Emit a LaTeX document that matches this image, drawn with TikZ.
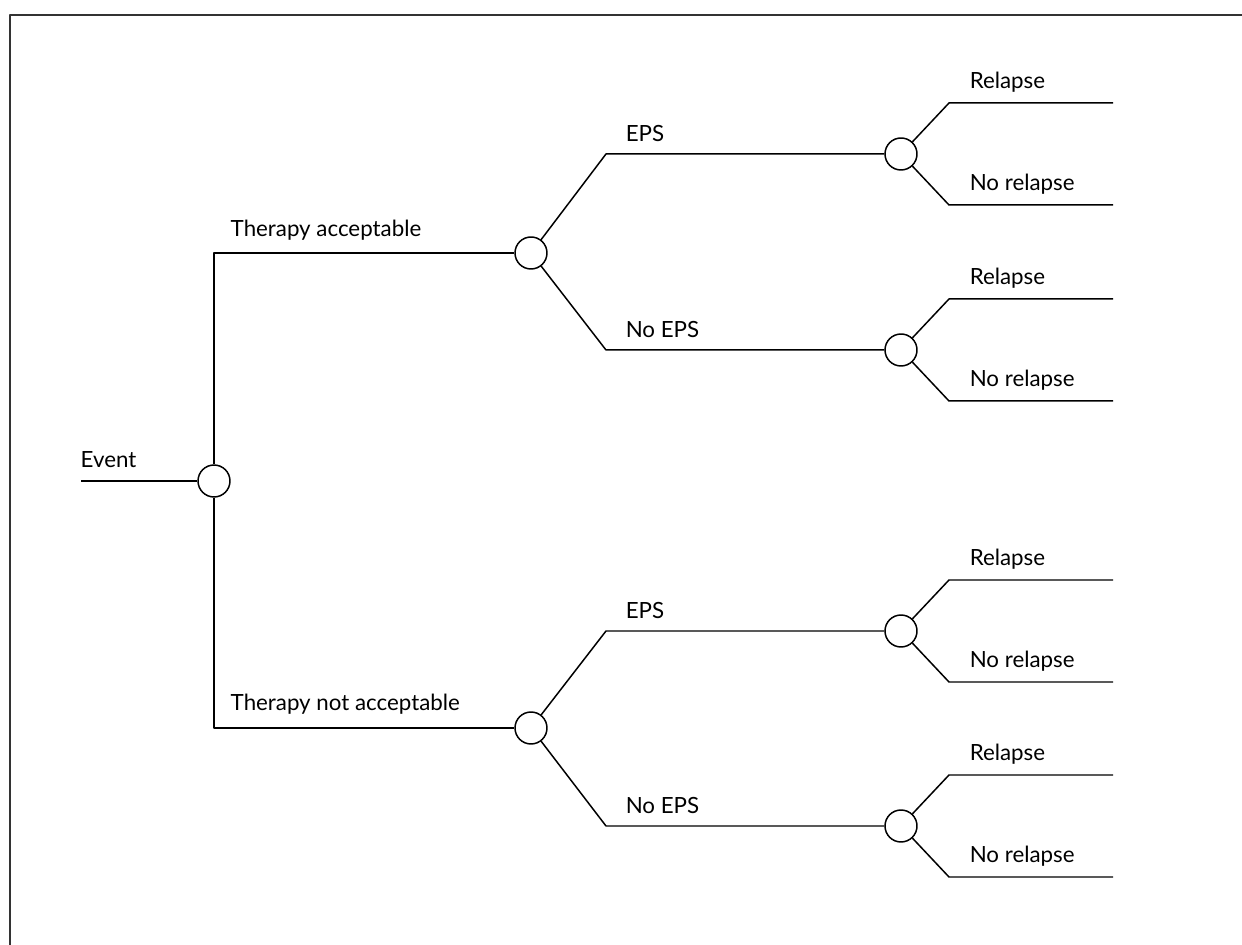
\documentclass[tikz,border=0pt]{standalone}
\usepackage{fontspec}
\setmainfont{Lato}
\usetikzlibrary{positioning}
\begin{document}
\begin{tikzpicture}[x=0.02cm,y=-0.02cm,font=\fontsize{12.7}{15}\selectfont,line width=0.85pt,line join=round,
		chance/.style={circle,draw,fill=white,minimum size=0.64cm,inner sep=0pt},
		lbl/.style={anchor=base west,inner sep=0pt}]
			\useasboundingbox (0,0) rectangle (1242,945);
			\draw[line width=1.2pt,color=black!80] (10,945)--(10,15)--(1242,15);
			% chance nodes
			\node[chance] (c0) at (214,481) {};
			\node[chance] (c1) at (531,253) {};
			\node[chance] (c2) at (531,728) {};
			\node[chance] (c11) at (901,154) {};
			\node[chance] (c12) at (901,350) {};
			\node[chance] (c21) at (901,631) {};
			\node[chance] (c22) at (901,826) {};
			\coordinate (ev) at (81,481);
			\draw (ev)--(c0);
			\node[lbl] (tev) at (80,468) {Event};
			\draw (c0.north) |- (c1.west);
			\draw (c0.south) |- (c2.west);
			\node[lbl] (ta) at (230,237) {Therapy acceptable};
			\node[lbl] (tna) at (230,711) {Therapy not acceptable};
			\foreach \a/\n/\y/\t in {c1/c11/154/EPS,c1/c12/350/No EPS,c2/c21/631/EPS,c2/c22/826/No EPS}{
				\coordinate (k\n) at (606,\y);
				\draw (\a)--(k\n)--(\n);
				\node[lbl] at (625,\y-12) {\t};
				\coordinate (u\n) at (949,\y-51);
				\coordinate (ue\n) at (1113,\y-51);
				\coordinate (d\n) at (949,\y+51);
				\coordinate (de\n) at (1113,\y+51);
				\draw (\n)--(u\n)--(ue\n);
				\draw (\n)--(d\n)--(de\n);
				\node[lbl] at (969,\y-65) {Relapse};
				\node[lbl] at (969,\y+37) {No relapse};
			}
\end{tikzpicture}
\end{document}
